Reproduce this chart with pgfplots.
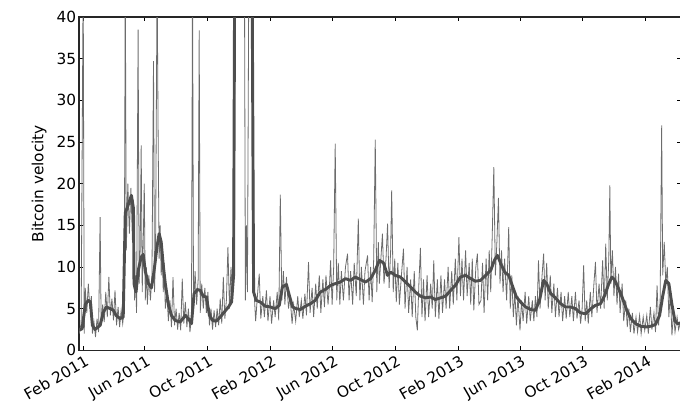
\documentclass[border=0pt]{standalone}
\usepackage{fontspec}
\setmainfont{DejaVu Sans}
\usepackage{pgfplots}
\usepackage{pgfplotstable}
\usetikzlibrary{calc}
\pgfplotsset{compat=1.18}
\definecolor{thincol}{RGB}{108,108,108}
\definecolor{thickcol}{RGB}{78,78,78}

\pgfplotstableread{
d v
-8 2.0
-4 3.2
0 45
2 2.0
4 7.5
7 4.5
10 8.0
13 5.0
16 6.5
18 2.0
21 3.4
24 1.6
27 3.8
30 2.2
33 16.0
35 3.0
38 5.5
41 3.4
44 7.0
47 4.0
50 8.8
53 4.2
56 6.2
59 3.6
62 7.2
65 3.0
68 5.2
71 2.8
74 4.8
77 3.2
80 5.0
82 45
84 12
87 20
90 14
93 19.5
96 13
98 18
100 6
102 9
104 4.5
107 38.5
109 8
111 12
113 24.6
115 7
117 13
119 20
121 6
123 10
125 5.5
128 9
131 6
134 9
137 34.7
139 7
141 12
144 45
146 26
148 11
150 15
152 9
154 12
156 7
158 10.5
160 5
163 7
166 3.5
169 6
172 2.8
175 8.8
178 3
181 5
184 2.5
187 4.5
190 2.4
193 8.6
196 3.2
199 5.8
202 2.8
205 5
208 2.2
211 4
213 45
215 5
218 9.5
221 5.5
224 8.5
226 38.4
228 4.5
231 8
234 5
237 7.5
240 4.5
243 7
246 3
249 5
252 2.5
255 4.8
258 2.8
261 5
264 3
267 6.2
270 3.2
273 8.8
276 3.8
279 6
282 12.4
285 5
288 10
291 6
294 12
296 50
314 50
316 6
318 15
320 7
323 50
330 50
333 7
336 3.5
340 7
343 9.2
346 3.8
350 6.5
353 4
357 7.2
360 3.5
364 6.5
367 3.2
371 6
374 4
378 7
381 3.6
384 18.7
387 6
390 9.5
393 5.5
396 8.8
400 5
403 6.5
407 3.2
410 5.5
414 3.5
418 6.5
421 4
425 6
428 3.8
432 6.8
435 4.2
439 10.6
442 4.5
446 7.5
449 4
453 8
456 5
460 9
463 4.5
467 8.5
470 5.2
473 9
477 5.5
480 8
482 10.8
485 5.5
488 10
491 24.8
494 6
497 10.5
500 5.5
503 9.5
507 6
511 10
515 11.6
518 6
521 9.5
525 5.5
528 10.5
532 6.5
536 15.8
539 6
542 10
546 5.5
549 9.5
554 11.4
557 6
560 10
563 5.8
566 11
569 25.3
572 7
575 13
577 8
580 11
583 14
586 8
590 11
593 15.2
596 7.5
599 12
601 19.2
604 7
607 11
610 5.8
613 10.5
616 5.5
620 9
624 12.2
627 5
631 10
634 4.5
638 8.5
641 4
645 9.5
648 4
651 2.4
654 8
657 12.3
660 4
663 8.5
666 3.5
670 9
673 4
677 8
680 5
683 10.8
686 4
690 8.5
693 3.8
697 9
700 4.5
704 8.5
707 5
711 10
714 5
718 9.5
721 5.5
725 11
728 6
732 13.6
735 6.5
738 11
741 6
745 12
748 6.5
752 10.5
755 5.5
758 11
761 4.8
765 10
768 11.6
771 5.5
775 6
778 10.5
781 4.5
785 11
788 6
791 12
794 7
797 14
800 22
803 9
806 13
809 18.3
812 8
815 12
818 7
821 11
825 6
829 14.8
832 5
835 9
838 4
841 7
844 3
847 6.5
851 2.4
854 6
857 3.5
861 7
864 3.2
868 6.5
871 3.5
875 6
878 3.5
881 6.5
884 4
887 10.8
890 5
894 9
897 11.6
900 6
903 10.5
906 5
910 9
913 4.5
917 8
920 4
924 7.5
927 4
931 7
934 3.5
938 6.5
941 3.8
945 7
948 4
952 6.5
955 3.5
959 7
962 3.8
966 6
969 3.2
972 5
975 10.2
978 3.5
981 6
984 3.2
988 7
991 4
995 8
998 10.6
1001 4.5
1005 8
1008 5
1012 10.8
1015 5
1018 12.8
1021 6
1024 11
1026 19.8
1028 8
1031 12
1034 6.5
1037 10
1040 5.5
1043 9.2
1046 4.5
1050 8
1053 3.5
1057 6
1060 2.8
1063 5
1066 2.2
1070 4.5
1073 2
1077 4
1080 2.2
1084 4.2
1087 2
1091 4
1094 2.4
1098 4.2
1101 2
1105 5.2
1108 2.5
1112 4.5
1115 2.2
1118 7.8
1121 3
1124 6
1127 27
1129 9
1132 13
1135 8
1138 10
1141 4
1144 7
1147 1.8
1150 4.5
1153 2.2
1157 4
1160 2.5
1164 3.5
}\dailytable

\pgfplotstableread{
d v
-8 2.4
-2 2.6
4 5.5
10 6.0
14 5.8
18 3.0
23 2.5
29 2.8
33 3.0
39 4.5
45 5.2
53 5.0
59 4.8
64 4.2
72 3.8
78 4.0
82 16.5
88 17.5
94 18.6
98 17
99 8
103 7
107 9.5
113 11.2
117 11.5
121 9.5
127 8
133 7.5
138 9.5
144 12.5
148 14
152 13
156 10.2
160 8
166 5.5
172 4.2
179 3.6
189 3.4
199 4.2
205 3.8
211 3.2
216 6.8
222 7.3
228 7.2
234 6.5
240 6.4
246 4.2
252 3.6
259 3.5
267 4.0
275 4.6
283 5.2
289 5.8
293 9
296 60
312 70
328 60
332 7
337 6
345 5.8
355 5.3
365 5.2
374 5.0
382 5.4
388 7.6
396 7.9
402 6.5
408 5.2
415 5.0
423 4.9
433 5.3
443 5.6
452 6.0
462 7.0
472 7.3
482 7.8
491 8.0
501 8.2
511 8.6
521 8.4
530 8.8
540 8.5
550 8.2
560 8.6
569 9.6
577 10.8
585 10.5
593 9.0
599 9.4
608 9.0
618 8.8
628 8.2
638 7.6
647 7.0
657 6.5
667 6.3
677 6.4
686 6.1
696 6.3
706 6.5
716 7.2
725 7.8
735 8.8
745 9.0
755 8.6
764 8.3
774 8.4
784 9.0
794 9.6
801 10.8
807 11.4
813 10.5
821 9.4
829 9.0
837 7.6
844 6.4
852 5.8
862 5.2
872 4.9
881 4.8
889 6.0
897 8.4
903 8.0
911 6.8
920 6.3
930 5.6
940 5.2
950 5.2
959 5.0
969 4.5
979 4.4
989 5.0
998 5.4
1008 5.6
1016 6.6
1024 8.0
1030 8.8
1035 8.5
1043 7.4
1051 6.2
1059 4.8
1067 3.8
1076 3.2
1086 2.9
1096 2.8
1106 2.9
1115 3.1
1123 4.2
1129 6.5
1135 8.4
1141 8.0
1147 5.5
1153 3.5
1158 3.2
1164 3.3
}\avgtable

\begin{document}
\begin{tikzpicture}
\begin{axis}[
  name=ax,
  scale only axis,
  width=450.75pt, height=249.75pt,
  xmin=-8, xmax=1164, ymin=0, ymax=40,
  ytick={0,5,10,15,20,25,30,35,40},
  xtick={0,120,242,365,486,608,731,851,973,1096},
  xticklabels={Feb 2011,Jun 2011,Oct 2011,Feb 2012,Jun 2012,Oct 2012,Feb 2013,Jun 2013,Oct 2013,Feb 2014},
  xticklabel style={rotate=30, anchor=north east, inner sep=1pt, yshift=-2pt},
  yticklabel style={inner sep=2pt},
  tick align=inside,
  major tick length=3pt,
  tick style={black, line width=0.6pt},
  axis line style={line width=0.9pt, black!85},
  ylabel={Bitcoin velocity},
  ylabel style={yshift=2pt},
  font=\fontsize{11.5pt}{13.5pt}\selectfont,
  /pgf/number format/assume math mode=true,
  clip=true,
]
\addplot[color=thincol, line width=0.6pt, mark=none] table[x=d,y=v]{\dailytable};
\addplot[color=thickcol, line width=2.2pt, mark=none, line join=round] table[x=d,y=v]{\avgtable};
\end{axis}
\pgfresetboundingbox
\path[use as bounding box] ($(ax.south west)+(-59.25pt,-43.5pt)$) rectangle ($(ax.north east)+(-0.5pt,12.75pt)$);
\end{tikzpicture}
\end{document}
